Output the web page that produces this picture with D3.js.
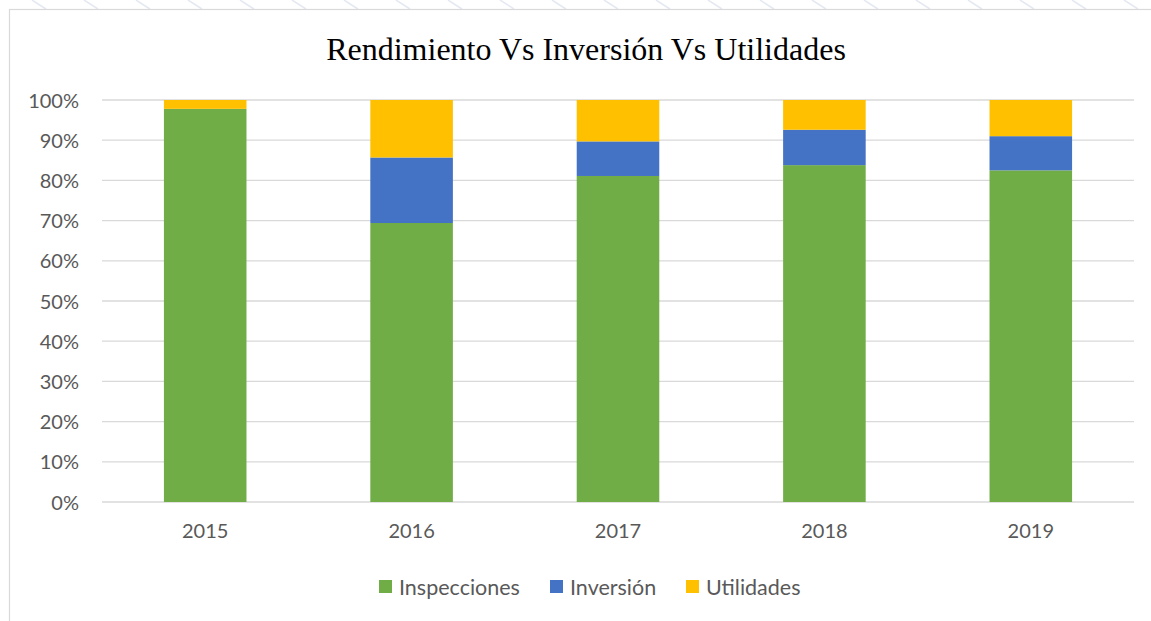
<!DOCTYPE html>
<html>
<head>
<meta charset="utf-8">
<script src="https://cdn.jsdelivr.net/npm/d3@7"></script>
<style>
  html, body { margin: 0; padding: 0; background: #fff; }
  svg { display: block; }
</style>
</head>
<body>
<svg id="chart" width="1151" height="621"></svg>
<script>
const title = "Rendimiento Vs Inversión Vs Utilidades";
const categories = ["2015", "2016", "2017", "2018", "2019"];
const seriesNames = ["Inspecciones", "Inversión", "Utilidades"];
const inspecciones = [97.8, 69.4, 81.1, 83.8, 82.5];
const inversion = [0, 16.3, 8.6, 8.8, 8.5];
const utilidades = [2.2, 14.3, 10.3, 7.4, 9.0];
const yTicks = [0, 0.1, 0.2, 0.3, 0.4, 0.5, 0.6, 0.7, 0.8, 0.9, 1.0];
const colors = ["#70AD47", "#4472C4", "#FFC000"];

const svg = d3.select("#chart");
const W = 1151, H = 621;
const font = "Lato, 'Open Sans', sans-serif";
const textColor = "#595959";

// faint background pattern above chart frame
const bg = svg.append("g");
const stripes = d3.range(-20, W + 40, 52);
bg.selectAll("line").data(stripes).join("line")
  .attr("x1", d => d).attr("y1", 0)
  .attr("x2", d => d + 14).attr("y2", 9)
  .attr("stroke", "#e4e9f1").attr("stroke-width", 1.5);

// chart frame
svg.append("rect")
  .attr("x", 9.5).attr("y", 9.5)
  .attr("width", 1170).attr("height", 640)
  .attr("fill", "#fff").attr("stroke", "#d9d9d9").attr("stroke-width", 1.2);

const plot = { left: 102, right: 1134, top: 100, bottom: 502 };

const x = d3.scaleBand().domain(categories)
  .range([plot.left, plot.right])
  .paddingInner(0.6).paddingOuter(0.3);
const y = d3.scaleLinear().domain([0, 1]).range([plot.bottom, plot.top]);

// gridlines
svg.append("g").selectAll("line").data(yTicks).join("line")
  .attr("x1", plot.left).attr("x2", plot.right)
  .attr("y1", d => y(d)).attr("y2", d => y(d))
  .attr("stroke", "#d9d9d9").attr("stroke-width", 1.3);

// stacked data
const rows = categories.map((c, i) => {
  const total = inspecciones[i] + inversion[i] + utilidades[i];
  return {
    cat: c,
    Inspecciones: inspecciones[i] / total,
    "Inversión": inversion[i] / total,
    Utilidades: utilidades[i] / total
  };
});
const stack = d3.stack().keys(seriesNames)(rows);

svg.append("g").selectAll("g").data(stack).join("g")
  .attr("fill", (d, i) => colors[i])
  .selectAll("rect").data(d => d).join("rect")
  .attr("x", d => x(d.data.cat))
  .attr("width", x.bandwidth())
  .attr("y", d => y(d[1]))
  .attr("height", d => Math.max(0, y(d[0]) - y(d[1])));

// y axis labels
const yAxis = d3.axisLeft(y).tickValues(yTicks).tickFormat(d3.format(".0%")).tickSize(0).tickPadding(0);
const yg = svg.append("g").attr("transform", `translate(${79},0)`).call(yAxis);
yg.select(".domain").remove();
yg.selectAll("text").attr("font-family", font).attr("font-size", 20).attr("fill", textColor).attr("dy", "0.35em");

// x axis labels
const xAxis = d3.axisBottom(x).tickSize(0).tickPadding(0);
const xg = svg.append("g").attr("transform", `translate(0,${plot.bottom + 22})`).call(xAxis);
xg.select(".domain").remove();
xg.selectAll("text").attr("font-family", font).attr("font-size", 20).attr("fill", textColor).attr("dy", "0.71em");

// title
svg.append("text")
  .attr("x", 586).attr("y", 60)
  .attr("text-anchor", "middle")
  .attr("font-family", "'Liberation Serif', 'Times New Roman', serif")
  .attr("font-size", 32)
  .attr("fill", "#000")
  .text(title);

// legend
const legendX = [379, 550, 686];
const lg = svg.append("g");
seriesNames.forEach((name, i) => {
  lg.append("rect").attr("x", legendX[i]).attr("y", 580).attr("width", 13).attr("height", 13).attr("fill", colors[i]);
  lg.append("text").attr("x", legendX[i] + 20).attr("y", 587).attr("dy", "0.35em")
    .attr("font-family", font).attr("font-size", 21.5).attr("fill", textColor).text(name);
});
</script>
</body>
</html>
